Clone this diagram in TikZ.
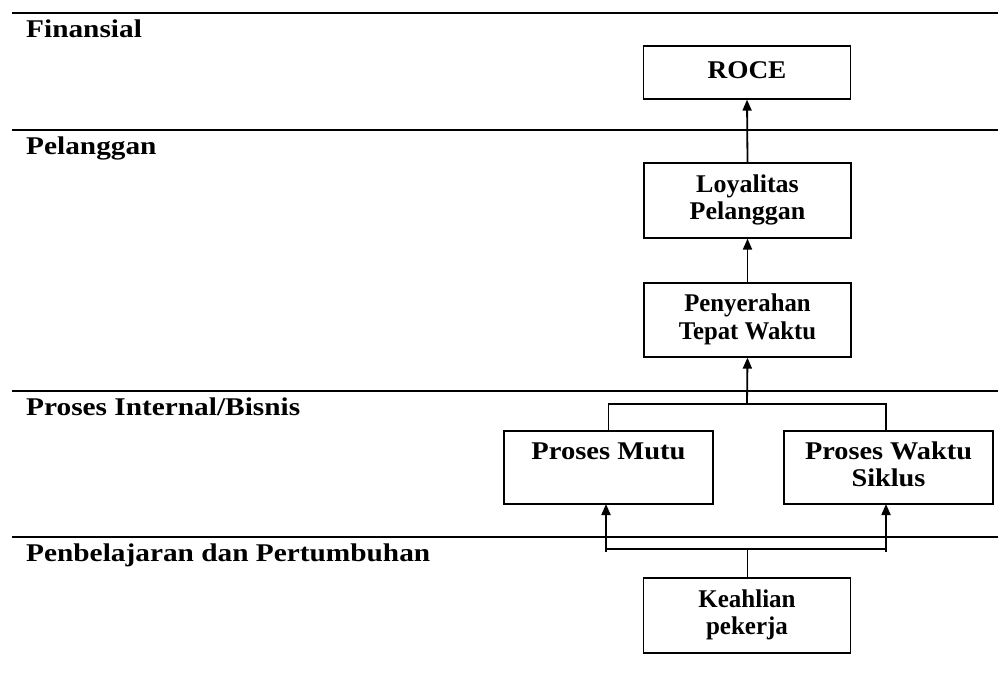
\documentclass[tikz,border=0pt]{standalone}
\usepackage{fontspec}
\setmainfont{Liberation Serif}
\usetikzlibrary{arrows.meta,calc}
\newcommand{\stretchtext}[2]{\scalebox{#1}[1]{\begin{tabular}{@{}c@{}}#2\end{tabular}}}
\newcommand{\seclabel}[1]{\scalebox{1.15}[1]{#1}}
\tikzset{
  every node/.style={font=\fontsize{25.5}{27.5}\selectfont\bfseries},
  secline/.style={line width=1.7pt},
  boxnode/.style={draw, line width=1.2pt, minimum width=207pt, inner sep=0pt},
  sectext/.style={anchor=base west, inner sep=0pt},
  arr/.style={line width=1.8pt, -{Triangle[length=11pt,width=9pt]}},
  branch/.style={line width=1.2pt},
  branchthick/.style={line width=1.8pt},
}
\begin{document}
\begin{tikzpicture}[x=1pt,y=-1pt]
\useasboundingbox (0,0) rectangle (998,677);
% section lines
\coordinate (l1a) at (12,13);  \coordinate (l1b) at (998,13);
\coordinate (l2a) at (12,130); \coordinate (l2b) at (998,130);
\coordinate (l3a) at (12,391); \coordinate (l3b) at (998,391);
\coordinate (l4a) at (12,537); \coordinate (l4b) at (998,537);
\draw[secline] (l1a) -- (l1b);
\draw[secline] (l2a) -- (l2b);
\draw[secline] (l3a) -- (l3b);
\draw[secline] (l4a) -- (l4b);
% section labels
\node[sectext] (s1) at (26,37.5) {\seclabel{Finansial}};
\node[sectext] (s2) at (26,154.5) {\seclabel{Pelanggan}};
\node[sectext] (s3) at (26,415.5) {\seclabel{Proses Internal/Bisnis}};
\node[sectext] (s4) at (26,561.5) {\seclabel{Penbelajaran dan Pertumbuhan}};
% boxes
\node[boxnode, minimum height=53pt] (roce) at (747,72.5) {\stretchtext{1.07}{ROCE}};
\node[boxnode, minimum height=75pt] (loy) at (747.5,200.5) {\raisebox{-3pt}{\stretchtext{1.02}{Loyalitas\\Pelanggan}}};
\node[boxnode, minimum height=74pt] (pen) at (747.5,320) {\raisebox{-4pt}{\stretchtext{0.97}{Penyerahan\\Tepat Waktu}}};
\node[boxnode, minimum width=209pt, minimum height=73pt] (pm) at (608.5,467.5) {\raisebox{-3pt}{\stretchtext{1.12}{Proses Mutu\\ \strut}}};
\node[boxnode, minimum width=209pt, minimum height=73pt] (pw) at (888.5,467.5) {\raisebox{-4pt}{\stretchtext{1.11}{Proses Waktu\\Siklus}}};
\node[boxnode, minimum height=75pt] (kea) at (747,615.5) {\raisebox{-2.5pt}{\stretchtext{0.98}{Keahlian\\pekerja}}};
% connectors
\draw[arr] (loy.north) -- (roce.south);
\draw[arr] (pen.north) -- (loy.south);
\coordinate (jt) at (747,404);
\coordinate (pwt) at (886,431);
\draw[branch] (pm.north) |- (jt) -| (pwt);
\draw[arr] (jt) -- (pen.south);
\coordinate (bl) at (606,552);
\coordinate (br) at (886,552);
\coordinate (blt) at (606,504);
\coordinate (brt) at (886,504);
\coordinate (jb) at (747,549);
\coordinate (bhl) at (606,549);
\coordinate (bhr) at (886,549);
\draw[arr] (bl) -- (blt);
\draw[arr] (br) -- (brt);
\draw[branchthick] (bhl) -- (bhr);
\draw[line width=1pt] (jb) -- (kea.north);
\end{tikzpicture}
\end{document}
